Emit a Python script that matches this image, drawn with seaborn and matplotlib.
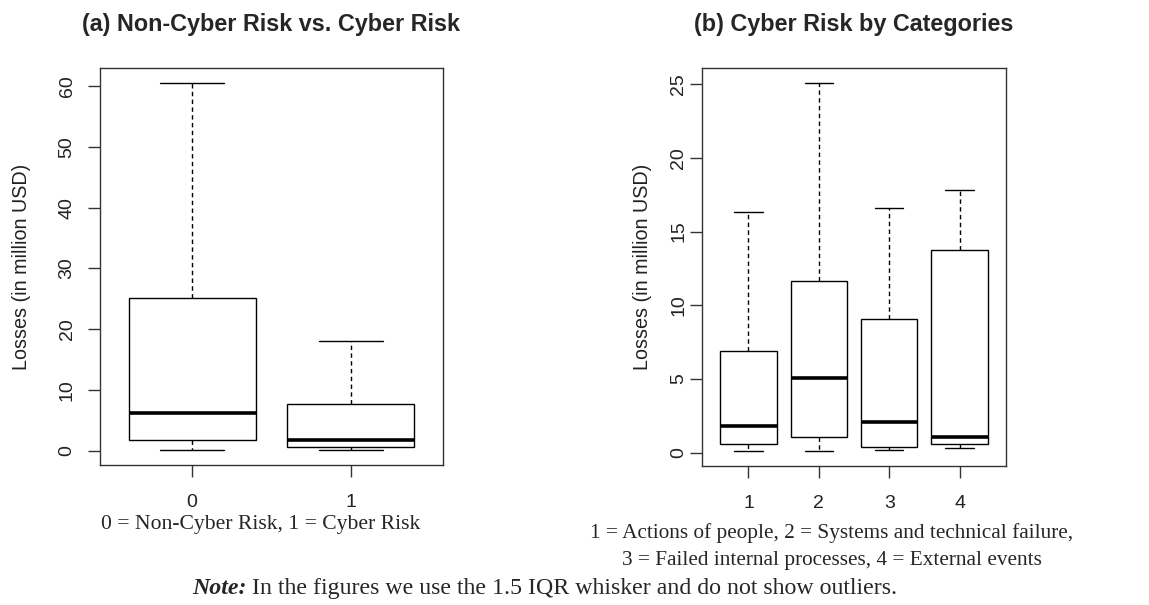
import pandas as pd
import numpy as np
import matplotlib
matplotlib.use("Agg")
import matplotlib.pyplot as plt
import seaborn as sns
from matplotlib.text import Annotation

# five-number summaries (million USD)
cats_a = ["0", "1"]
low_a = [0.05, 0.05]
q1_a = [1.8, 0.6]
med_a = [6.2, 1.8]
q3_a = [25.2, 7.6]
high_a = [60.6, 18.1]

cats_b = ["1", "2", "3", "4"]
low_b = [0.09, 0.09, 0.18, 0.34]
q1_b = [0.56, 1.08, 0.41, 0.56]
med_b = [1.83, 5.07, 2.1, 1.09]
q3_b = [6.9, 11.63, 9.07, 13.76]
high_b = [16.3, 25.1, 16.63, 17.8]

yticks_a = [0, 10, 20, 30, 40, 50, 60]
yticks_b = [0, 5, 10, 15, 20, 25]

title_a = "(a) Non-Cyber Risk vs. Cyber Risk"
title_b = "(b) Cyber Risk by Categories"
ylab = "Losses (in million USD)"
note_a = "0 = Non-Cyber Risk, 1 = Cyber Risk"
note_b1 = "1 = Actions of people, 2 = Systems and technical failure,"
note_b2 = "3 = Failed internal processes, 4 = External events"
note_head = "Note:"
note_rest = " In the figures we use the 1.5 IQR whisker and do not show outliers."


def long_form(cats, lo, q1, med, q3, hi):
    rows = []
    for c, a, b, m, d, e in zip(cats, lo, q1, med, q3, hi):
        for v in (a, b, m, d, e):
            rows.append({"group": c, "loss": v})
    return pd.DataFrame(rows)


sns.set_style("ticks")
plt.rcParams["font.family"] = ["Liberation Sans", "DejaVu Sans"]

fig = plt.figure(figsize=(11.49, 6.05), dpi=100)
W, H = 1149, 605
ax1 = fig.add_axes([100 / W, 1 - 465 / H, 343 / W, 397 / H])
ax2 = fig.add_axes([702 / W, 1 - 466 / H, 304 / W, 398 / H])

panels = [
    (ax1, long_form(cats_a, low_a, q1_a, med_a, q3_a, high_a), cats_a, yticks_a, title_a, 9, 20),
    (ax2, long_form(cats_b, low_b, q1_b, med_b, q3_b, high_b), cats_b, yticks_b, title_b, 2, 13),
]

for ax, df, cats, yt, ttl, ypad, lpad in panels:
    sns.boxplot(data=df, x="group", y="loss", order=cats, ax=ax,
                whis=(0, 100), width=0.8, color="white", linecolor="black",
                linewidth=1.0, showfliers=False,
                medianprops=dict(linewidth=2.6),
                whiskerprops=dict(linestyle=(0, (3.2, 2.4))))
    n = len(cats)
    ax.set_xlim(-0.5 - 0.04 * n, n - 0.5 + 0.04 * n)
    vmin, vmax = df["loss"].min(), df["loss"].max()
    r = vmax - vmin
    ax.set_ylim(vmin - 0.04 * r, vmax + 0.04 * r)
    ax.set_yticks(yt)
    ax.set_xlabel("")
    ax.set_ylabel(ylab, fontsize=14.2, color="#222222", labelpad=lpad)
    ax.set_title(ttl, fontsize=16.8, fontweight="bold", pad=27)
    ax.tick_params(axis="both", length=8.5, width=1.0, color="#333333",
                   labelsize=14, labelcolor="#222222", direction="out")
    ax.tick_params(axis="y", labelrotation=90, pad=ypad)
    ax.tick_params(axis="x", pad=12.5)
    for lab in ax.get_yticklabels():
        lab.set_va("center")
    for sp in ax.spines.values():
        sp.set_visible(True)
        sp.set_linewidth(1.0)
        sp.set_color("#333333")

serif = ["Liberation Serif", "DejaVu Serif"]
fig.text(101 / W, 1 - 524 / H, note_a, family=serif, fontsize=15.6, va="center", ha="left")
fig.text(832 / W, 1 - 533 / H, note_b1, family=serif, fontsize=15.3, va="center", ha="center")
fig.text(832 / W, 1 - 560 / H, note_b2, family=serif, fontsize=15.3, va="center", ha="center")
t1 = fig.text(192 / W, 1 - 599 / H, note_head, family=serif, fontsize=17.2,
              fontweight="bold", fontstyle="italic", va="bottom", ha="left")
fig.add_artist(Annotation(note_rest, xy=(1, 0), xycoords=t1, va="bottom", ha="left",
                          family=serif, fontsize=17.2))

fig.savefig("out.png", dpi=100)
